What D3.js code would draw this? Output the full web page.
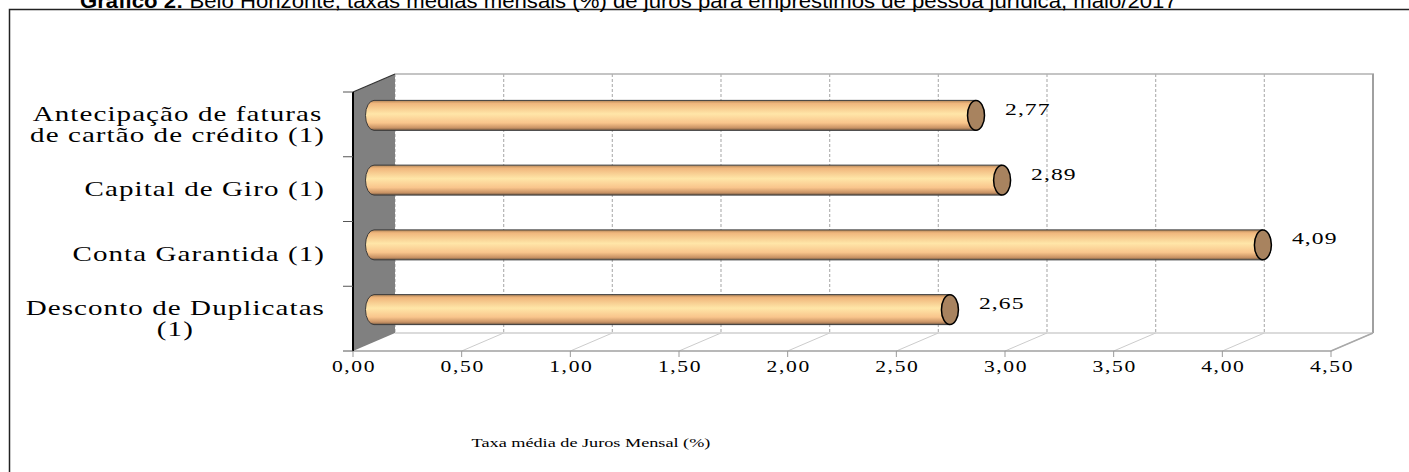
<!DOCTYPE html>
<html><head><meta charset="utf-8">
<script src="https://cdn.jsdelivr.net/npm/d3@7"></script>
<style>
html,body{margin:0;padding:0;background:#fff;}
svg{display:block;}
.serif{font-family:"Liberation Serif","Times New Roman",serif;fill:#000;}
</style></head>
<body>
<svg id="chart" width="1409" height="472"></svg>
<script>
// ---- data ----
const categories = [
  ["Antecipação de faturas", "de cartão de crédito (1)"],
  ["Capital de Giro (1)"],
  ["Conta Garantida (1)"],
  ["Desconto de Duplicatas", "(1)"]
];
const categoryKeys = ["Antecipação", "Capital", "Conta", "Desconto"];
const values = [2.77, 2.89, 4.09, 2.65];
const valueLabels = ["2,77", "2,89", "4,09", "2,65"];
const xTicks = [0, 0.5, 1, 1.5, 2, 2.5, 3, 3.5, 4, 4.5];
const xTickLabels = ["0,00","0,50","1,00","1,50","2,00","2,50","3,00","3,50","4,00","4,50"];
const titleBold = "Gráfico 2:";
const titleRest = " Belo Horizonte, taxas médias mensais (%) de juros para empréstimos de pessoa jurídica, maio/2017";
const axisTitle = "Taxa média de Juros Mensal (%)";

// ---- layout ----
const svg = d3.select("#chart");
const frontLeft = 353, frontRight = 1331, frontTop = 92, frontBottom = 351;
const depthX = 42, depthY = -18;
const x = d3.scaleLinear().domain([0, 4.5]).range([frontLeft, frontRight]);
const y = d3.scaleBand().domain(categoryKeys).range([frontTop, frontBottom]).paddingInner(0).paddingOuter(0);
const bandH = y.bandwidth();
const barH = bandH * 0.463;
const sx = 1.35;

// defs
const defs = svg.append("defs");
const g1 = defs.append("linearGradient").attr("id","cyl").attr("x1",0).attr("y1",0).attr("x2",0).attr("y2",1);
[[0,"#b08558"],[0.1,"#f0b67c"],[0.45,"#ffe6a8"],[0.75,"#f9c58c"],[0.92,"#c89264"],[1,"#6a5644"]]
  .forEach(([o,c]) => g1.append("stop").attr("offset",o).attr("stop-color",c));

// outer frame
svg.append("path").attr("d","M9.5,472 L9.5,9.5 L1409,9.5").attr("fill","none").attr("stroke","#222").attr("stroke-width",1.5);

// title
const title = svg.append("text").attr("x", 80).attr("y", 7.5)
  .style("font-family","'Liberation Sans',Arial,sans-serif").style("font-size","21px").attr("fill","#000");
title.append("tspan").attr("font-weight","bold").text(titleBold);
title.append("tspan").text(titleRest);
{
  const w = title.node().getComputedTextLength();
  const target = 1097;
  title.attr("transform", `translate(80,0) scale(${target / w},1) translate(-80,0)`);
}

// back wall
const bx0 = frontLeft + depthX, bx1 = frontRight + depthX, by0 = frontTop + depthY, by1 = frontBottom + depthY;
svg.append("rect").attr("x",bx0).attr("y",by0).attr("width",bx1-bx0).attr("height",by1-by0).attr("fill","#fff");
svg.append("g").selectAll("line").data(xTicks.slice(0, -1)).join("line")
  .attr("x1", d => x(d) + depthX).attr("x2", d => x(d) + depthX)
  .attr("y1", by0).attr("y2", by1)
  .attr("stroke","#b4b4b4").attr("stroke-width",1.2).attr("stroke-dasharray","3,2");
svg.append("line").attr("x1",bx0).attr("x2",bx1+1).attr("y1",by0).attr("y2",by0).attr("stroke","#b0b0b0").attr("stroke-width",1.5);
svg.append("line").attr("x1",bx1).attr("x2",bx1).attr("y1",by0).attr("y2",by1).attr("stroke","#a0a0a0").attr("stroke-width",2);
svg.append("line").attr("x1",bx0).attr("x2",bx1).attr("y1",by1).attr("y2",by1).attr("stroke","#b8b8b8").attr("stroke-width",1.2);
// floor
svg.append("g").selectAll("line").data(xTicks.slice(1)).join("line")
  .attr("x1", d => x(d)).attr("y1", frontBottom)
  .attr("x2", d => x(d) + depthX).attr("y2", by1)
  .attr("stroke","#cccccc").attr("stroke-width",1);
svg.append("line").attr("x1",frontRight).attr("y1",frontBottom).attr("x2",bx1).attr("y2",by1).attr("stroke","#a8a8a8").attr("stroke-width",1.5);
svg.append("line").attr("x1",frontLeft).attr("x2",frontRight).attr("y1",frontBottom).attr("y2",frontBottom).attr("stroke","#a0a0a0").attr("stroke-width",1.5);
svg.append("g").selectAll("line").data(xTicks).join("line")
  .attr("x1", d => x(d)).attr("x2", d => x(d)).attr("y1", frontBottom).attr("y2", frontBottom + 6)
  .attr("stroke","#999").attr("stroke-width",1);

// left side wall
svg.append("path")
  .attr("d", `M${frontLeft},${frontTop} L${bx0},${by0} L${bx0},${by1} L${frontLeft},${frontBottom} Z`)
  .attr("fill","#808080").attr("stroke","none");
svg.append("line").attr("x1",frontLeft).attr("y1",frontTop).attr("x2",bx0).attr("y2",by0).attr("stroke","#333").attr("stroke-width",1.2);
svg.append("line").attr("x1",frontLeft).attr("x2",frontLeft).attr("y1",frontTop).attr("y2",frontBottom).attr("stroke","#000").attr("stroke-width",2);
const yBounds = categoryKeys.map(k => y(k)).concat([frontBottom]);
svg.append("g").selectAll("line").data(yBounds).join("line")
  .attr("x1", frontLeft - 10).attr("x2", frontLeft).attr("y1", d => d).attr("y2", d => d)
  .attr("stroke","#555").attr("stroke-width",1);

// bars (cylinders)
const rx = 8.5;
const bars = svg.append("g").selectAll("g").data(values).join("g");
bars.each(function(v, i) {
  const gsel = d3.select(this);
  const cy = y(categoryKeys[i]) + bandH / 2 + depthY / 2;
  const ry = barH / 2;
  const x0 = x(0) + depthX / 2, x1 = x(v) + depthX / 2;
  const top = cy - ry, bot = cy + ry;
  gsel.append("path")
    .attr("d", `M${x1},${top} L${x0},${top} A${rx},${ry} 0 0 0 ${x0},${bot} L${x1},${bot} Z`)
    .attr("fill","url(#cyl)").attr("stroke","#3a3a3a").attr("stroke-width",1);
  gsel.append("ellipse").attr("cx", x1).attr("cy", cy).attr("rx", rx).attr("ry", ry)
    .attr("fill","#a8835f").attr("stroke","#000").attr("stroke-width",1.5);
  gsel.append("text").attr("class","serif")
    .attr("transform", `translate(${x1 + 29},${cy - 0.5}) scale(${sx},1)`)
    .style("font-size","17.5px").style("letter-spacing","0.8px")
    .text(valueLabels[i]);
});

// x tick labels
svg.append("g").selectAll("text").data(xTicks).join("text")
  .attr("class","serif")
  .attr("transform", d => `translate(${x(d) + 1},372) scale(${sx},1)`)
  .attr("text-anchor","middle")
  .style("font-size","16px").style("letter-spacing","1.2px")
  .text((d, i) => xTickLabels[i]);

// category labels
const labelRight = 325;
const lineGap = 21;
categories.forEach((lines, i) => {
  const cy = y(categoryKeys[i]) + bandH / 2;
  const gl = svg.append("g").attr("transform", `translate(${labelRight},0) scale(${sx},1)`);
  const texts = lines.map((t, j) => gl.append("text").attr("class","serif")
    .style("font-size","21.5px").style("letter-spacing","0.8px").attr("text-anchor","middle")
    .attr("y", cy + 7 + (j - (lines.length - 1) / 2) * lineGap).text(t));
  const maxW = d3.max(texts, t => t.node().getComputedTextLength());
  texts.forEach(t => t.attr("x", -maxW / 2));
});

// axis title
svg.append("text").attr("class","serif")
  .attr("transform", `translate(591,447) scale(${sx},1)`)
  .attr("text-anchor","middle").style("font-size","13.5px")
  .text(axisTitle);
</script>
</body></html>
